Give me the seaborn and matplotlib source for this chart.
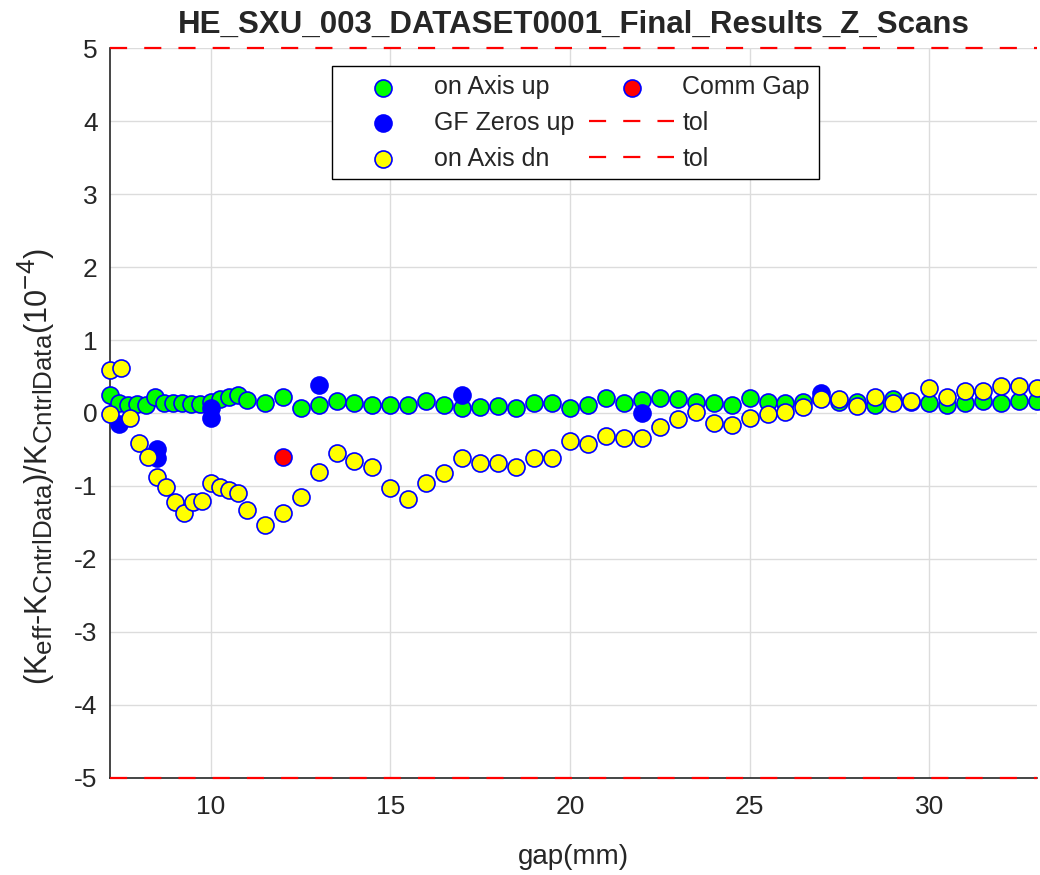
import matplotlib
matplotlib.use('Agg')
import matplotlib.pyplot as plt
import matplotlib._mathtext as mathtext
import seaborn as sns

# gap positions (mm) and relative deviation (1e-4) for each scan
gap_up = [7.2, 7.45, 7.7, 7.95, 8.2, 8.45, 8.7, 8.95, 9.2, 9.45, 9.7, 10.0,
          10.25, 10.5, 10.75, 11.0, 11.5, 12.0, 12.5, 13.0, 13.5, 14.0, 14.5,
          15.0, 15.5, 16.0, 16.5, 17.0, 17.5, 18.0, 18.5, 19.0, 19.5, 20.0,
          20.5, 21.0, 21.5, 22.0, 22.5, 23.0, 23.5, 24.0, 24.5, 25.0, 25.5,
          26.0, 26.5, 27.0, 27.5, 28.0, 28.5, 29.0, 29.5, 30.0, 30.5, 31.0,
          31.5, 32.0, 32.5, 33.0]
on_axis_up = [0.24, 0.14, 0.11, 0.12, 0.11, 0.22, 0.14, 0.14, 0.14, 0.12, 0.12, 0.15,
              0.19, 0.22, 0.25, 0.18, 0.14, 0.22, 0.07, 0.11, 0.16, 0.14, 0.11,
              0.11, 0.11, 0.16, 0.11, 0.07, 0.08, 0.10, 0.07, 0.14, 0.14, 0.07,
              0.11, 0.21, 0.14, 0.18, 0.21, 0.19, 0.15, 0.14, 0.11, 0.20, 0.15,
              0.14, 0.15, 0.20, 0.15, 0.15, 0.11, 0.19, 0.15, 0.14, 0.11, 0.14,
              0.16, 0.14, 0.16, 0.16]

gap_gf = [7.45, 8.5, 8.5, 10.0, 10.0, 13.0, 17.0, 22.0, 27.0]
gf_zeros_up = [-0.15, -0.5, -0.62, 0.07, -0.07, 0.38, 0.25, 0.0, 0.27]

gap_dn = [7.2, 7.5, 7.2, 7.75, 8.0, 8.25, 8.5, 8.75, 9.0, 9.25, 9.5, 9.75,
          10.0, 10.25, 10.5, 10.75, 11.0, 11.5, 12.0, 12.5, 13.0, 13.5, 14.0,
          14.5, 15.0, 15.5, 16.0, 16.5, 17.0, 17.5, 18.0, 18.5, 19.0, 19.5,
          20.0, 20.5, 21.0, 21.5, 22.0, 22.5, 23.0, 23.5, 24.0, 24.5, 25.0,
          25.5, 26.0, 26.5, 27.0, 27.5, 28.0, 28.5, 29.0, 29.5, 30.0, 30.5,
          31.0, 31.5, 32.0, 32.5, 33.0]
on_axis_dn = [0.59, 0.62, -0.01, -0.07, -0.41, -0.6, -0.88, -1.01, -1.22, -1.37, -1.22, -1.2,
              -0.96, -1.01, -1.05, -1.1, -1.33, -1.53, -1.37, -1.15, -0.81, -0.55, -0.66,
              -0.74, -1.03, -1.18, -0.96, -0.82, -0.62, -0.68, -0.69, -0.74, -0.62, -0.62,
              -0.39, -0.43, -0.31, -0.34, -0.34, -0.19, -0.08, 0.01, -0.14, -0.16, -0.07,
              -0.01, 0.01, 0.08, 0.19, 0.19, 0.10, 0.22, 0.14, 0.16, 0.34, 0.22,
              0.30, 0.30, 0.37, 0.37, 0.34]

gap_comm = [12.0]
comm_gap = [-0.6]

tol_levels = [5, -5]

sns.set_style('white')
plt.rcParams['font.family'] = ['Liberation Sans', 'DejaVu Sans']
plt.rcParams['mathtext.default'] = 'regular'
plt.rcParams['axes.unicode_minus'] = False
# MATLAB-style subscripts are only a little smaller than the main text
mathtext.SHRINK_FACTOR = 0.85

fig = plt.figure(figsize=(10.4, 8.75), dpi=100)
ax = fig.add_axes([0.106, 0.111, 0.891, 0.834])

series = [
    (gap_up, on_axis_up, '#00ff00', 'on Axis up'),
    (gap_gf, gf_zeros_up, '#0000ff', 'GF Zeros up'),
    (gap_dn, on_axis_dn, '#ffff00', 'on Axis dn'),
    (gap_comm, comm_gap, '#ff0000', 'Comm Gap'),
]
for xs, ys, col, name in series:
    sns.scatterplot(x=xs, y=ys, color=col, edgecolor='#0000ff', linewidth=1.2,
                    s=150, label=name, ax=ax, zorder=4, clip_on=False)

for t in tol_levels:
    ax.axhline(t, color='#ff0000', lw=1.6, ls=(0, (7.7, 7.7)), label='tol',
               clip_on=False, zorder=5)

ax.set_xlim(7.2, 33)
ax.set_ylim(-5, 5)
ax.set_xticks([10, 15, 20, 25, 30])
ax.set_yticks(range(-5, 6))
ax.grid(True, color='#dcdcdc', lw=1)
ax.set_axisbelow(True)
ax.spines['top'].set_visible(False)
ax.spines['right'].set_visible(False)
for side in ['left', 'bottom']:
    ax.spines[side].set_color('#262626')
    ax.spines[side].set_linewidth(1.2)
ax.tick_params(direction='in', length=6, width=1, colors='#262626',
               labelsize=19)
ax.tick_params(axis='x', pad=12)
ax.tick_params(axis='y', pad=9)

ax.set_title('HE_SXU_003_DATASET0001_Final_Results_Z_Scans',
             fontsize=22.5, fontweight='bold', pad=11)
ax.set_xlabel('gap(mm)', fontsize=20, color='#262626', labelpad=18)
ax.set_ylabel('(K$_{eff}$-K$_{CntrlData}$)/K$_{CntrlData}$(10$^{-4}$)',
              fontsize=22, color='#262626')
ax.yaxis.set_label_coords(-0.057, 0.426)

ax.legend(ncol=2, loc='upper center', bbox_to_anchor=(0.502, 0.975),
          fontsize=18, frameon=True, fancybox=False, edgecolor='black',
          framealpha=1, handlelength=3.4, handletextpad=0.32, columnspacing=0.6,
          labelspacing=0.47, borderpad=0.35, borderaxespad=0, scatterpoints=1)

plt.savefig('out.png', dpi=100)
